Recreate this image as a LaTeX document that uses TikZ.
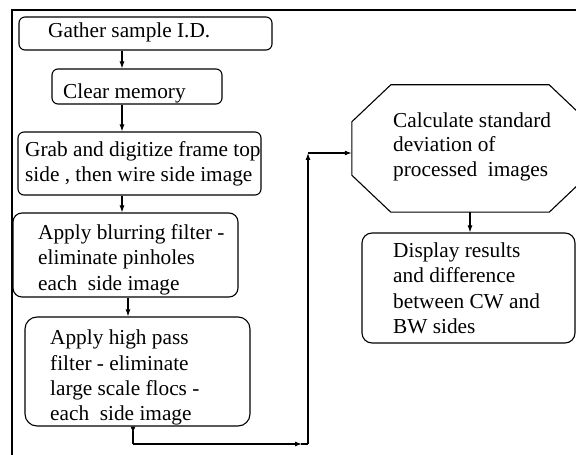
\documentclass[tikz,border=0pt]{standalone}
\usepackage{fontspec}
\setmainfont{Liberation Serif}
\usetikzlibrary{arrows.meta,calc}
\begin{document}
\begin{tikzpicture}[x=1bp,y=-1bp,
  ln/.style={line width=1.1bp,black},
  box/.style={ln,draw,rounded corners=6bp,inner sep=0pt},
  txt/.style={anchor=base west,inner sep=0pt,font=\fontsize{21.3bp}{25bp}\selectfont},
  arr/.style={ln,-{Latex[length=7bp,width=5bp]}},
  rarr/.style={ln,{Latex[length=7bp,width=5bp,reversed]}-}]
\useasboundingbox (0,0) rectangle (576,455);
% outer frame (cut off at right and bottom)
\draw[ln] (12,455) -- (12,10) -- (576,10);
% boxes
\node[box,minimum width=253bp,minimum height=33bp] (b1) at (145.5,33.5) {};
\node[box,minimum width=170bp,minimum height=35bp] (b2) at (137,86.5) {};
\node[box,minimum width=243bp,minimum height=63bp] (b3) at (139.5,163.5) {};
\node[box,minimum width=225bp,minimum height=84bp,rounded corners=9bp] (b4) at (125.5,255) {};
\node[box,minimum width=225bp,minimum height=109bp,rounded corners=12bp] (b5) at (137.5,371.5) {};
\node[box,minimum width=213bp,minimum height=110bp,rounded corners=10bp] (b6) at (468.5,288) {};
\node[inner sep=0pt,minimum width=236bp,minimum height=127bp] (oct) at (470,148.5) {};
\draw[ln] ([xshift=39bp]oct.north west) -- ([xshift=-39bp]oct.north east)
  -- ([yshift=-37bp]oct.north east) -- ([yshift=37bp]oct.south east)
  -- ([xshift=-39bp]oct.south east) -- ([xshift=39bp]oct.south west)
  -- ([yshift=37bp]oct.south west) -- ([yshift=-37bp]oct.north west) -- cycle;
% texts
\node[txt] (t1) at (48,38) {Gather sample I.D.};
\node[txt] (t2) at (63,99) {Clear memory};
\node[txt] (t3a) at (25,157) {Grab and digitize frame top};
\node[txt] (t3b) at (25,182) {side , then wire side image};
\node[txt] (t4a) at (38,240) {Apply blurring filter -};
\node[txt] (t4b) at (38,265) {eliminate pinholes};
\node[txt] (t4c) at (38,290) {each~ side image};
\node[txt] (t5a) at (50,344) {Apply high pass};
\node[txt] (t5b) at (50,370) {filter - eliminate};
\node[txt] (t5c) at (50,395) {large scale flocs -};
\node[txt] (t5d) at (50,420) {each~ side image};
\node[txt] (t7a) at (393,128) {Calculate standard};
\node[txt] (t7b) at (393,152) {deviation of};
\node[txt] (t7c) at (393,177) {processed~ images};
\node[txt] (t6a) at (393,258) {Display results};
\node[txt] (t6b) at (393,283) {and difference};
\node[txt] (t6c) at (393,308) {between CW and};
\node[txt] (t6d) at (393,333) {BW sides};
% connectors
\coordinate (ax) at (122,0);
\coordinate (bx) at (128,0);
\coordinate (cx) at (133,0);
\coordinate (c1) at (133,444);
\coordinate (c2) at (308,444);
\coordinate (c3) at (308,153);
\draw[arr] (b1.south -| ax) -- (b2.north -| ax);
\draw[arr] (b2.south -| ax) -- (b3.north -| ax);
\draw[arr] (b3.south -| ax) -- (b4.north -| ax);
\draw[arr] (b4.south -| bx) -- (b5.north -| bx);
\draw[rarr] (b5.south -| cx) -- (c1);
\draw[arr] (c1) -- ([xshift=-6bp]c2);
\draw[ln] ([xshift=-7bp]c2) -- (c2);
\draw[arr] (c2) -- (c3);
\draw[arr] (c3) -- (c3 -| oct.west);
\draw[arr] (oct.south) -- (b6.north -| oct.south);
\end{tikzpicture}
\end{document}
